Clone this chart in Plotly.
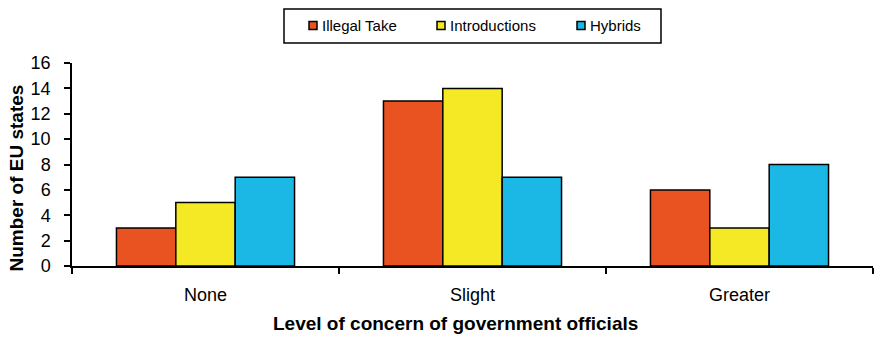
import plotly.graph_objects as go

categories = ["None", "Slight", "Greater"]
illegal_take = [3, 13, 6]
introductions = [5, 14, 3]
hybrids = [7, 7, 8]
y_ticks = [0, 2, 4, 6, 8, 10, 12, 14, 16]

series_names = ["Illegal Take", "Introductions", "Hybrids"]
series_values = [illegal_take, introductions, hybrids]
series_colors = ["#E95322", "#F5E824", "#1BB8E6"]

W, H = 874, 337
M_L, M_R, M_T, M_B = 72, 1, 63, 71
PW, PH = W - M_L - M_R, H - M_T - M_B


def px_x(px):
    """Pixel column -> paper x."""
    return (px - M_L) / PW


def px_y(py):
    """Pixel row -> paper y."""
    return (H - M_B - py) / PH


fig = go.Figure()
for name, vals, color in zip(series_names, series_values, series_colors):
    fig.add_trace(go.Bar(
        x=categories, y=vals, name=name, showlegend=False,
        marker=dict(color=color, line=dict(color="black", width=1.5)),
    ))

font_family = "Liberation Sans, Arial, sans-serif"

# Boxed legend across the top: small outlined swatches right next to the labels
shapes = [dict(
    type="rect", xref="paper", yref="paper", layer="above",
    x0=px_x(284), x1=px_x(661), y0=px_y(43), y1=px_y(9),
    line=dict(color="black", width=1.5), fillcolor="white",
)]
annotations = []
legend_swatch_x = [309, 437, 577]
for name, color, sx in zip(series_names, series_colors, legend_swatch_x):
    shapes.append(dict(
        type="rect", xref="paper", yref="paper", layer="above",
        x0=px_x(sx), x1=px_x(sx + 8), y0=px_y(29.5), y1=px_y(21.5),
        line=dict(color="black", width=1.5), fillcolor=color,
    ))
    annotations.append(dict(
        text=name, xref="paper", yref="paper", showarrow=False,
        x=px_x(sx + 11), y=px_y(25.5), xanchor="left", yanchor="middle",
        font=dict(size=15, color="black", family=font_family),
    ))

# Axis titles, placed as free text
annotations.append(dict(
    text="<b>Number of EU states</b>", xref="paper", yref="paper", showarrow=False,
    x=px_x(15.5), y=px_y(178), xanchor="center", yanchor="middle", textangle=-90,
    font=dict(size=19, color="black", family=font_family),
))
annotations.append(dict(
    text="<b>Level of concern of government officials</b>", xref="paper", yref="paper",
    showarrow=False, x=px_x(455), y=px_y(323.5), xanchor="center", yanchor="middle",
    font=dict(size=19, color="black", family=font_family),
))

fig.update_layout(
    width=W, height=H,
    margin=dict(l=M_L, r=M_R, t=M_T, b=M_B),
    paper_bgcolor="white", plot_bgcolor="white",
    barmode="group", bargap=0.333, bargroupgap=0,
    font=dict(family=font_family, size=18, color="black"),
    showlegend=False,
    shapes=shapes, annotations=annotations,
    xaxis=dict(
        showline=True, linecolor="black", linewidth=1.5,
        ticks="outside", tickson="boundaries", ticklen=6, tickcolor="black", tickwidth=1.5,
        tickfont=dict(size=18), showgrid=False, ticklabelstandoff=12,
    ),
    yaxis=dict(
        range=[0, 16], tickvals=y_ticks, showline=True, linecolor="black", linewidth=1.5,
        ticks="outside", ticklen=6, tickcolor="black", tickwidth=1.5, showgrid=False, zeroline=False,
        tickfont=dict(size=18), ticklabelstandoff=10,
    ),
)

fig.write_html("out.html")
